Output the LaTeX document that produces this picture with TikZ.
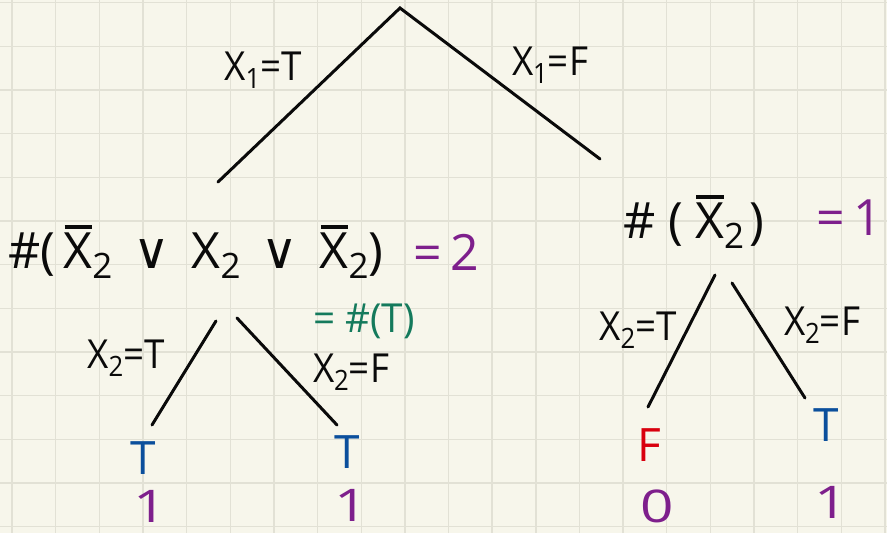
\documentclass[tikz,border=0pt]{standalone}
\usepackage{fontspec}
\setmainfont{Open Sans}
\newfontfamily\symf{DejaVu Sans}
\definecolor{paper}{HTML}{F7F6EB}
\definecolor{gridc}{HTML}{E2E1D5}
\definecolor{ink}{HTML}{0A0A0A}
\definecolor{purp}{HTML}{7E1F8C}
\definecolor{grn}{HTML}{147A5C}
\definecolor{blu}{HTML}{0B4F9C}
\definecolor{rd}{HTML}{D9000E}
\newcommand\sbx[1]{\raisebox{-0.38ex}{\scalebox{0.7}{#1}}}
\newcommand\xb{\makebox[0pt][l]{\hspace{0.02em}\raisebox{0.8em}{\rule{0.55em}{0.07em}}}X}
\newcommand\orv{{\symf ∨}}
\begin{document}
\begin{tikzpicture}[x=1pt,y=-1pt,
  edge/.style={line width=3pt,draw=ink,line cap=round},
  lbl/.style={text=ink,inner sep=0pt,font=\fontsize{40}{40}\selectfont,xscale=0.92},
  formula/.style={text=ink,inner sep=0pt,font=\fontsize{50}{50}\selectfont},
  leaf/.style={inner sep=0pt,font=\fontsize{46}{46}\selectfont},
  val/.style={text=purp,inner sep=0pt,font=\fontsize{45}{45}\selectfont,xscale=1.3}]
\useasboundingbox (0,0) rectangle (887,533);
\fill[paper] (0,0) rectangle (887,533);
\foreach \k in {0,...,20} \draw[gridc,line width=1.4pt] ({12+43.65*\k},0) -- ({12+43.65*\k},533);
\foreach \k in {0,...,12} \draw[gridc,line width=1.4pt] (0,{2.7+43.65*\k}) -- (887,{2.7+43.65*\k});
% coordinates
\coordinate (apex) at (400,8);
\coordinate (l1) at (218,182);
\coordinate (r1) at (600,159);
\coordinate (la) at (216,321);
\coordinate (lb) at (152,425);
\coordinate (lc) at (237,318);
\coordinate (ld) at (337,425);
\coordinate (ra) at (715,275);
\coordinate (rb) at (648,407);
\coordinate (rc) at (732,283);
\coordinate (rd) at (805,398);
\draw[edge] (l1) -- (apex) -- (r1);
\draw[edge] (la) -- (lb);
\draw[edge] (lc) -- (ld);
\draw[edge] (ra) -- (rb);
\draw[edge] (rc) -- (rd);
% labels
\node[lbl] (x1t) at (263,70) {X\sbx{1}=T};
\node[lbl] (x1f) at (550,65) {X\sbx{1}=F};
\node[formula,anchor=west] (fl) at (8,252) {\#(\,\xb\sbx{2} \,\orv\, X\sbx{2} \,\orv\, \xb\sbx{2})};
\node[formula,text=purp,anchor=west] (fl2) at (413,252) {=\,2};
\node[formula,anchor=west] (fr) at (623,222) {\#\hspace{0.25em}(\hspace{0.25em}\xb\sbx{2}\hspace{0.1em})};
\node[formula,text=purp,anchor=west] (fr2) at (816,218) {=\,1};
\node[lbl] (x2tl) at (126,358) {X\sbx{2}=T};
\node[lbl] (x2fl) at (351,372) {X\sbx{2}=F};
\node[lbl,text=grn,xscale=1.05] (gt) at (364,321) {= \#(T)};
\node[lbl] (x2tr) at (638,330) {X\sbx{2}=T};
\node[lbl] (x2fr) at (822,325) {X\sbx{2}=F};
% leaves
\node[leaf,text=blu] (t1) at (143,458) {T};
\node[leaf,text=blu] (t2) at (347,452) {T};
\node[leaf,text=rd] (f1) at (649,445) {F};
\node[leaf,text=blu] (t3) at (826,425) {T};
\node[val] (v1) at (150,506) {1};
\node[val] (v2) at (351,505) {1};
\node[val] (v3) at (657,506) {0};
\node[val] (v4) at (831,502) {1};
\end{tikzpicture}
\end{document}
